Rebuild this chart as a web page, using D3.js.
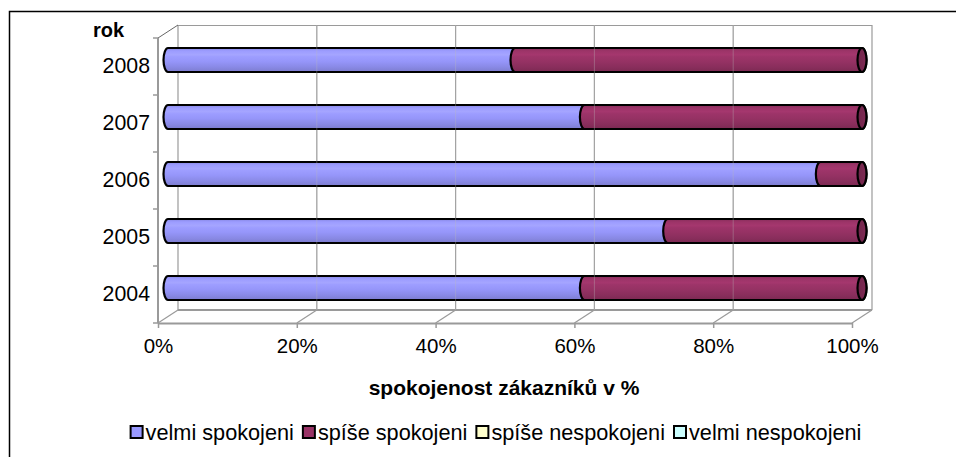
<!DOCTYPE html>
<html>
<head>
<meta charset="utf-8">
<script src="https://cdn.jsdelivr.net/npm/d3@7"></script>
<style>
  html, body { margin: 0; padding: 0; background: #fff; }
  svg { display: block; font-family: "Liberation Sans", Arial, sans-serif; }
</style>
</head>
<body>
<svg id="chart" width="956" height="457"></svg>
<script>
// Customer satisfaction by year (100 % stacked)
const years = ["2004", "2005", "2006", "2007", "2008"];
const seriesNames = ["velmi spokojeni", "spíše spokojeni", "spíše nespokojeni", "velmi nespokojeni"];
const velmiSpokojeni = [60, 72, 94, 60, 50];
const spiseSpokojeni = [40, 28, 6, 40, 50];
const spiseNespokojeni = [0, 0, 0, 0, 0];
const velmiNespokojeni = [0, 0, 0, 0, 0];
const xTicks = [0, 20, 40, 60, 80, 100];
const seriesColors = ["#9999FF", "#993366", "#FFFFCC", "#CCFFFF"];

const seriesValues = [velmiSpokojeni, spiseSpokojeni, spiseNespokojeni, velmiNespokojeni];

const svg = d3.select("#chart");

// outer chart-area frame (left and top edges)
svg.append("path").attr("d", "M9.5,457 L9.5,11.5 L956,11.5")
  .attr("fill", "none").attr("stroke", "#000").attr("stroke-width", 1.5);

// 3-D geometry: front plane scales plus a depth offset
const depthX = 20, depthY = -13;
const x = d3.scaleLinear().domain([0, 100]).range([158, 852]);
const y = d3.scaleBand().domain(years.slice().reverse()).range([38, 323]).padding(0);
const plotTop = y.range()[0], plotBottom = y.range()[1];
const xl = x(0), xr = x(100);

const grid = svg.append("g");
const wallStroke = "#9a9a9a";

// back wall: gridlines + top edge
grid.selectAll("line.gl").data(xTicks).join("line")
  .attr("x1", d => x(d) + depthX).attr("x2", d => x(d) + depthX)
  .attr("y1", plotTop + depthY).attr("y2", plotBottom + depthY)
  .attr("stroke", wallStroke).attr("stroke-width", 1.2);
grid.append("line")
  .attr("x1", xl + depthX).attr("x2", xr + depthX)
  .attr("y1", plotTop + depthY + 0.5).attr("y2", plotTop + depthY + 0.5)
  .attr("stroke", wallStroke).attr("stroke-width", 1.2);

// floor: back edge + depth lines at each tick
grid.append("line")
  .attr("x1", xl + depthX).attr("x2", xr + depthX)
  .attr("y1", plotBottom + depthY).attr("y2", plotBottom + depthY)
  .attr("stroke", wallStroke).attr("stroke-width", 2);
grid.selectAll("line.fd").data(xTicks).join("line")
  .attr("x1", d => x(d)).attr("x2", d => x(d) + depthX)
  .attr("y1", plotBottom).attr("y2", plotBottom + depthY)
  .attr("stroke", wallStroke).attr("stroke-width", 1.2);

// side wall: top depth line + left axis line
grid.append("line")
  .attr("x1", xl).attr("x2", xl + depthX)
  .attr("y1", plotTop).attr("y2", plotTop + depthY)
  .attr("stroke", "#666").attr("stroke-width", 1);
grid.append("line")
  .attr("x1", xl).attr("x2", xl)
  .attr("y1", plotTop).attr("y2", plotBottom)
  .attr("stroke", wallStroke).attr("stroke-width", 2);
// category boundary ticks on the left axis
const boundaries = d3.range(years.length + 1).map(i => plotTop + i * y.step());
grid.selectAll("line.ct").data(boundaries).join("line")
  .attr("x1", xl - 5).attr("x2", xl)
  .attr("y1", d => d).attr("y2", d => d)
  .attr("stroke", wallStroke).attr("stroke-width", 1.5);

// bottom axis (front floor edge) with percent labels
const xAxis = d3.axisBottom(x).tickValues(xTicks).tickFormat(d => d + "%")
  .tickSize(5).tickSizeOuter(0).tickPadding(10);
const gx = svg.append("g").attr("transform", `translate(0,${plotBottom})`).call(xAxis);
gx.select(".domain").attr("stroke", wallStroke).attr("stroke-width", 2);
gx.selectAll(".tick line").attr("stroke", wallStroke).attr("stroke-width", 1.5);
gx.selectAll(".tick text").attr("fill", "#000").attr("font-size", 20.5)
  .attr("font-family", "Liberation Sans, Arial, sans-serif");

// left axis: year labels
const yAxis = d3.axisLeft(y).tickSize(0).tickPadding(8);
const gy = svg.append("g").attr("transform", `translate(${xl},0)`).call(yAxis);
gy.select(".domain").remove();
gy.selectAll(".tick text").attr("fill", "#000").attr("font-size", 21.3)
  .attr("font-family", "Liberation Sans, Arial, sans-serif");

// gradients giving the cylinders their shading
const defs = svg.append("defs");
function shade(c, k) { return d3.color(c).darker(k).formatHex(); }
function tint(c, k) { return d3.color(c).brighter(k).formatHex(); }
seriesColors.forEach((c, i) => {
  const g = defs.append("linearGradient").attr("id", "cyl" + i)
    .attr("x1", 0).attr("y1", 0).attr("x2", 0).attr("y2", 1);
  [[0, shade(c, 0.35)], [0.12, tint(c, 0.05)], [0.28, tint(c, 0.22)], [0.36, tint(c, 0.08)],
   [0.55, shade(c, 0.05)], [0.8, shade(c, 0.3)], [1, shade(c, 0.6)]]
    .forEach(([o, col]) => g.append("stop").attr("offset", o).attr("stop-color", col));
  const gc = defs.append("linearGradient").attr("id", "cap" + i)
    .attr("x1", 0).attr("y1", 0).attr("x2", 1).attr("y2", 0);
  gc.append("stop").attr("offset", 0).attr("stop-color", shade(c, 0.9));
  gc.append("stop").attr("offset", 1).attr("stop-color", shade(c, 0.5));
});

// stacked cylinder bars, placed at mid depth
const barR = 12, capRx = 4.5;
const stackData = years.map((yr, i) => {
  let acc = 0;
  return seriesValues.map((vals, s) => {
    const v = vals[i];
    const seg = { year: yr, series: s, x0: acc, x1: acc + v };
    acc += v;
    return seg;
  }).filter(seg => seg.x1 > seg.x0);
});

const bars = svg.append("g");
stackData.forEach(segs => {
  const cy = y(segs[0].year) + y.bandwidth() / 2 + depthY / 2;
  const t = cy - barR, b = cy + barR;
  const row = bars.append("g");
  row.selectAll("path.seg").data(segs).join("path")
    .attr("d", d => {
      const a = x(d.x0) + depthX / 2, e = x(d.x1) + depthX / 2;
      return `M${a},${t} L${e},${t} A${capRx},${barR} 0 0 1 ${e},${b} L${a},${b} A${capRx},${barR} 0 0 1 ${a},${t} Z`;
    })
    .attr("fill", d => `url(#cyl${d.series})`)
    .attr("stroke", "#000").attr("stroke-width", 2.2);
  const last = segs[segs.length - 1];
  row.append("ellipse")
    .attr("cx", x(last.x1) + depthX / 2).attr("cy", cy)
    .attr("rx", capRx).attr("ry", barR)
    .attr("fill", `url(#cap${last.series})`)
    .attr("stroke", "#000").attr("stroke-width", 2.2);
});

// faint back-wall gridlines showing through the bars
svg.append("g").selectAll("line").data(xTicks.slice(1, -1)).join("line")
  .attr("x1", d => x(d) + depthX).attr("x2", d => x(d) + depthX)
  .attr("y1", plotTop + depthY).attr("y2", plotBottom + depthY)
  .attr("stroke", "#bbb").attr("stroke-opacity", 0.35).attr("stroke-width", 1);

// axis titles
svg.append("text").attr("x", 93).attr("y", 37)
  .attr("font-size", 20).attr("font-weight", "bold").text("rok");
svg.append("text").attr("x", 504).attr("y", 395).attr("text-anchor", "middle")
  .attr("font-size", 21).attr("font-weight", "bold").text("spokojenost zákazníků v %");

// legend
const legend = svg.append("g");
const legendY = 432, sq = 12;
let lx = 0;
seriesNames.forEach((name, i) => {
  const item = legend.append("g").attr("transform", `translate(${lx},0)`);
  item.append("rect").attr("x", 0).attr("y", legendY - sq / 2).attr("width", sq).attr("height", sq)
    .attr("fill", seriesColors[i]).attr("stroke", "#000").attr("stroke-width", 2);
  const t = item.append("text").attr("x", sq + 3).attr("y", legendY + 7.5)
    .attr("font-size", 21.7).text(name);
  lx += sq + 3 + t.node().getComputedTextLength() + 9;
});
const legendW = lx - 9;
legend.attr("transform", `translate(${496 - legendW / 2},0)`);
</script>
</body>
</html>
